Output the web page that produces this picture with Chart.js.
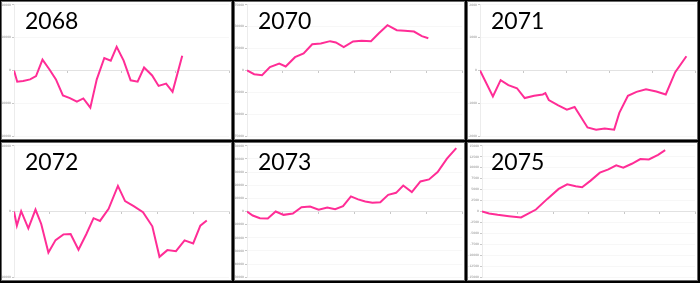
<!DOCTYPE html>
<html>
<head>
<meta charset="utf-8">
<script src="https://cdn.jsdelivr.net/npm/chart.js@4.4.0/dist/chart.umd.min.js"></script>
<style>
  html, body { margin: 0; padding: 0; background: #000; width: 700px; height: 283px; overflow: hidden; }
  .cell { position: absolute; width: 229px; height: 137px; background: #fff; border: 1px solid #6a6a6a; }
  .cell canvas { position: absolute; left: 0; top: 0; }
  .lbl { position: absolute; left: 23px; top: 7px; font-family: Lato, "Open Sans", sans-serif; font-size: 23px; line-height: 23px; color: #000; z-index: 2; }
</style>
</head>
<body>
<div id="root"></div>
<script>
// ---- data ----
const categories = ['2068', '2070', '2071', '2072', '2073', '2075'];

const x2068 = [0, 0.6, 1.7, 3.0, 4.1, 5.3, 6.6, 7.8, 9.1, 10.4, 11.7, 12.9, 14.2, 15.4, 16.8, 18.0, 19.1, 20.4, 21.7, 23.0, 24.2, 25.7, 26.9, 28.3, 29.5, 31.3];
const y2068 = [0, -3400, -3200, -2700, -1700, 3300, 300, -2700, -7600, -8400, -9500, -8500, -11300, -2700, 3800, 3000, 7200, 3000, -3000, -3400, 900, -1500, -4700, -4000, -6500, 4500];
const yTicks2068 = [-20000, -10000, 0, 10000, 20000];

const x2070 = [0, 1.0, 2.1, 3.2, 4.5, 5.4, 6.7, 7.9, 9.1, 10.3, 11.6, 12.4, 13.5, 14.8, 16.0, 17.3, 18.4, 19.6, 20.9, 22.0, 23.3, 24.4, 25.3];
const y2070 = [0, -4200, -5300, 3800, 8000, 4600, 15200, 19400, 30000, 30800, 33500, 32000, 26600, 33100, 33900, 33500, 42600, 51700, 46000, 45300, 44500, 39200, 36900];
const yTicks2070 = [-75000, -50000, -25000, 0, 25000, 50000, 75000];

const x2071 = [0, 1.5, 2.4, 3.3, 4.3, 5.2, 6.3, 7.3, 7.6, 8.0, 9.1, 10.1, 11.0, 12.5, 13.5, 14.5, 15.6, 16.2, 17.2, 18.2, 19.3, 20.5, 21.6, 22.7, 24.0];
const y2071 = [0, -790, -295, -445, -540, -840, -770, -730, -690, -900, -1065, -1190, -1110, -1735, -1800, -1765, -1800, -1290, -770, -650, -570, -640, -730, -50, 435];
const yTicks2071 = [-2000, -1000, 0, 1000, 2000];

const x2072 = [0, 0.4, 1.0, 2.0, 3.0, 3.8, 4.8, 5.8, 6.9, 7.9, 9.0, 10.1, 11.1, 12.0, 13.2, 14.5, 15.5, 16.7, 18.0, 19.3, 20.3, 21.4, 22.6, 23.8, 25.0, 26.0, 26.9];
const y2072 = [0, -2150, 50, -2560, 300, -1900, -6240, -4350, -3480, -3430, -5830, -3430, -1020, -1430, 410, 3890, 1590, 820, -100, -2250, -6900, -5880, -6040, -4400, -4860, -2150, -1380];
const yTicks2072 = [-10000, 0, 10000];

const x2073 = [0, 0.8, 1.8, 2.9, 4.0, 5.1, 6.4, 7.6, 8.8, 10.0, 11.2, 12.3, 13.4, 14.5, 15.5, 16.5, 17.5, 18.6, 19.7, 20.8, 21.8, 23.0, 24.2, 25.4, 26.6, 27.9, 29.2];
const y2073 = [0, -3050, -5100, -5300, 0, -2550, -1500, 3300, 3800, 1300, 3050, 1800, 4100, 11500, 9200, 7600, 6600, 7100, 12700, 14200, 19800, 14800, 22900, 24400, 30000, 40200, 48300];
const yTicks2073 = [-50000, -40000, -30000, -20000, -10000, 0, 10000, 20000, 30000, 40000, 50000];

const x2075 = [0, 1.0, 2.2, 3.8, 5.5, 7.6, 9.2, 10.8, 12.0, 13.2, 14.1, 15.3, 16.6, 17.8, 18.9, 19.9, 21.1, 22.3, 23.5, 24.8, 25.8];
const y2075 = [0, -450, -760, -1060, -1360, 450, 2880, 5150, 6210, 5760, 5530, 7050, 8860, 9620, 10530, 10000, 10900, 11970, 11890, 12950, 14000];
const yTicks2075 = [-15000, -12500, -10000, -7500, -5000, -2500, 0, 2500, 5000, 7500, 10000, 12500, 15000];

// x-axis tick positions per panel
const xTicks2068 = [0, 10, 20, 30, 40];
const xTicks2070 = [0, 5, 10, 15, 20, 25, 30];
const xTicks2071 = [0, 5, 10, 15, 20, 25];
const xTicks2072 = [0, 5, 10, 15, 20, 25, 30];
const xTicks2073 = [0, 5, 10, 15, 20, 25, 30];
const xTicks2075 = [0, 5, 10, 15, 20, 25, 30];

const panels = [
  { name: categories[0], xs: x2068, ys: y2068, yt: yTicks2068, xt: xTicks2068 },
  { name: categories[1], xs: x2070, ys: y2070, yt: yTicks2070, xt: xTicks2070 },
  { name: categories[2], xs: x2071, ys: y2071, yt: yTicks2071, xt: xTicks2071 },
  { name: categories[3], xs: x2072, ys: y2072, yt: yTicks2072, xt: xTicks2072 },
  { name: categories[4], xs: x2073, ys: y2073, yt: yTicks2073, xt: xTicks2073 },
  { name: categories[5], xs: x2075, ys: y2075, yt: yTicks2075, xt: xTicks2075 }
];

// ---- layout / style ----
const colX = [1, 234, 467];
const rowY = [1, 142];
const axisW = [12, 12, 12, 12, 12, 14];

const root = document.getElementById('root');
panels.forEach((p, i) => {
  const cell = document.createElement('div');
  cell.className = 'cell';
  cell.style.left = colX[i % 3] + 'px';
  cell.style.top = rowY[Math.floor(i / 3)] + 'px';
  const lbl = document.createElement('div');
  lbl.className = 'lbl';
  lbl.textContent = p.name;
  const cv = document.createElement('canvas');
  cv.width = 229; cv.height = 137;
  cv.style.width = '229px'; cv.style.height = '137px';
  cell.appendChild(cv);
  cell.appendChild(lbl);
  root.appendChild(cell);

  const w = axisW[i];
  new Chart(cv.getContext('2d'), {
    type: 'line',
    data: {
      datasets: [{
        data: p.xs.map((x, k) => ({ x: x, y: p.ys[k] })),
        borderColor: '#ff2d96',
        borderWidth: 2,
        pointRadius: 0,
        tension: 0,
        fill: false
      }]
    },
    options: {
      responsive: false,
      animation: false,
      maintainAspectRatio: false,
      devicePixelRatio: 1,
      layout: { padding: { left: 0, right: 2, top: 2, bottom: 1 } },
      plugins: { legend: { display: false }, tooltip: { enabled: false } },
      scales: {
        x: {
          type: 'linear',
          position: { y: 0 },
          min: p.xt[0],
          max: p.xt[p.xt.length - 1],
          afterBuildTicks: (s) => { s.ticks = p.xt.map(v => ({ value: v })); },
          ticks: { display: false },
          grid: { drawOnChartArea: false, drawTicks: true, tickLength: 2, tickColor: '#c8c8c8' },
          border: { color: '#e2e2e2', width: 1 }
        },
        y: {
          type: 'linear',
          min: p.yt[0],
          max: p.yt[p.yt.length - 1],
          afterBuildTicks: (s) => { s.ticks = p.yt.map(v => ({ value: v })); },
          afterFit: (s) => { s.width = w; },
          ticks: {
            font: { size: 3, family: 'DejaVu Sans' },
            color: '#8a8a8a',
            padding: 1,
            autoSkip: false,
            callback: (v) => String(v)
          },
          grid: {
            color: (c) => (c.tick && c.tick.value === 0) ? 'rgba(0,0,0,0)' : '#f7f7f7',
            tickLength: 2,
            tickColor: '#c8c8c8'
          },
          border: { color: '#ececec', width: 1 }
        }
      }
    }
  });
});
</script>
</body>
</html>
